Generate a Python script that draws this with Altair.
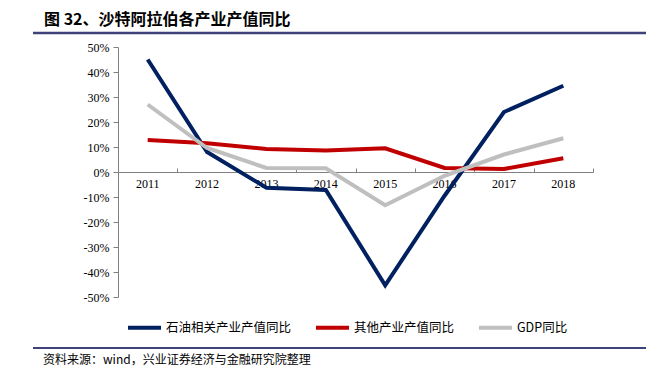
import altair as alt
import pandas as pd

years = ["2011", "2012", "2013", "2014", "2015", "2016", "2017", "2018"]
series_names = ["石油相关产业产值同比", "其他产业产值同比", "GDP同比"]
oil = [45.0, 8.0, -6.3, -7.2, -45.3, -9.5, 24.0, 34.5]
other = [12.8, 11.5, 9.2, 8.6, 9.5, 1.6, 1.2, 5.5]
gdp = [27.0, 9.6, 1.6, 1.5, -13.3, -1.5, 7.0, 13.5]
colors = ["#002060", "#C00000", "#BFBFBF"]
y_ticks = [-0.5, -0.4, -0.3, -0.2, -0.1, 0.0, 0.1, 0.2, 0.3, 0.4, 0.5]

title_text = "图 32、沙特阿拉伯各产业产值同比"
source_text = "资料来源：wind，兴业证券经济与金融研究院整理"

rows = []
for name, vals in zip(series_names, [oil, other, gdp]):
    for yr, v in zip(years, vals):
        rows.append({"year": yr, "series": name, "value": v / 100.0})
df = pd.DataFrame(rows)

serif = "Liberation Serif"
cjk = "Noto Sans CJK SC"

x_scale = alt.Scale(type="band", domain=years, paddingInner=0, paddingOuter=0)
y_scale = alt.Scale(domain=[-0.5, 0.5], nice=False, zero=False)

lines = alt.Chart(df).mark_line(strokeWidth=4, strokeJoin="miter").encode(
    x=alt.X("year:O", scale=x_scale, bandPosition=0.5, title=None,
            axis=alt.Axis(orient="bottom", offset=-125, ticks=False, domain=True,
                          domainColor="#808080", domainWidth=1, labelAngle=0,
                          labelFont=serif, labelFontSize=12, labelColor="#000000",
                          labelPadding=6, grid=False, labelOverlap=False)),
    y=alt.Y("value:Q", scale=y_scale, title=None,
            axis=alt.Axis(values=y_ticks, format=".0%",
                          labelExpr="replace(datum.label, '−', '-')",
                          labelFont=serif, labelFontSize=12, labelColor="#000000",
                          tickSize=5, tickColor="#808080", domainColor="#808080",
                          labelPadding=4, grid=False, labelOverlap=False,
                          orient="left")),
    color=alt.Color("series:N",
                    scale=alt.Scale(domain=series_names, range=colors),
                    sort=series_names,
                    legend=alt.Legend(orient="none", legendX=8, legendY=262,
                                      direction="horizontal", title=None,
                                      symbolType="stroke", symbolSize=1089,
                                      symbolStrokeWidth=4, labelOffset=3,
                                      columnPadding=16, labelFont=cjk,
                                      labelFontSize=12.5, labelColor="#000000",
                                      labelLimit=300)),
    order=alt.Order("order:Q"),
).transform_calculate(
    order="indexof(['石油相关产业产值同比','其他产业产值同比','GDP同比'], datum.series)"
)

tick_layer = alt.Chart(df).mark_line(opacity=0).encode(
    x=alt.X("year:O", scale=x_scale, bandPosition=0.5, title=None,
            axis=alt.Axis(orient="top", offset=-125, labels=False, domain=False,
                          ticks=True, tickBand="extent", tickSize=4,
                          tickColor="#808080", grid=False)),
    y=alt.Y("value:Q", scale=y_scale, axis=None),
)

deco_df = pd.DataFrame({"k": [0]})
title_mark = alt.Chart(deco_df).mark_text(
    align="left", baseline="middle", fontSize=16, fontWeight="bold", font=cjk,
    color="#000000"
).encode(x=alt.value(-74), y=alt.value(-27), text=alt.value(title_text))

top_rule = alt.Chart(deco_df).mark_rule(color="#3E4279", strokeWidth=2.5).encode(
    x=alt.value(-85), x2=alt.value(528), y=alt.value(-14))
bottom_rule = alt.Chart(deco_df).mark_rule(color="#3E4279", strokeWidth=2).encode(
    x=alt.value(-85), x2=alt.value(528), y=alt.value(301))

source_mark = alt.Chart(deco_df).mark_text(
    align="left", baseline="middle", fontSize=12, font=cjk, color="#000000"
).encode(x=alt.value(-75), y=alt.value(313), text=alt.value(source_text))

chart = alt.layer(
    lines, tick_layer, title_mark, top_rule, bottom_rule, source_mark
).resolve_axis(x="independent", y="independent").properties(
    width=475, height=250,
    autosize=alt.AutoSizeParams(type="none"),
    padding={"left": 110, "top": 39, "right": 66, "bottom": 71},
).configure_view(stroke=None)

chart.save("out.html", embed_options={"renderer": "svg", "actions": False})
